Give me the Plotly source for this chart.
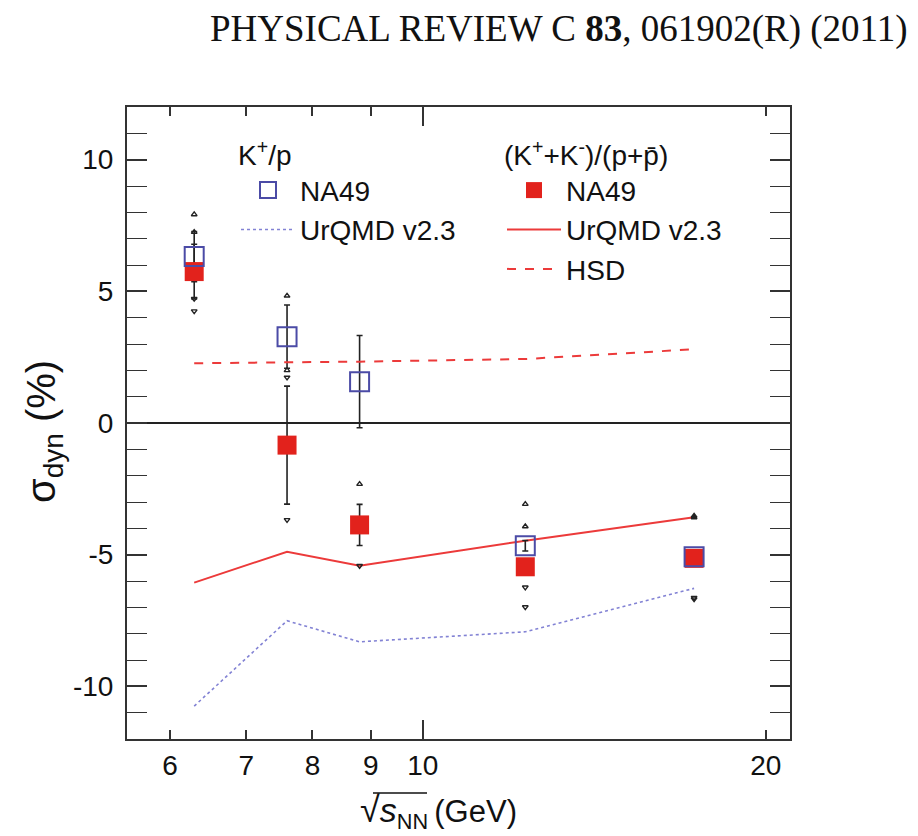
import numpy as np
import plotly.graph_objects as go

# ---- data ----
sqrt_s = [6.3, 7.6, 8.8, 12.3, 17.3]

kp_na49 = [6.32, 3.28, 1.57, -4.66, -5.08]
kp_stat = [0.95, 1.20, 1.75, 0.20, 0.15]
kp_sys = [1.60, 1.55, None, 1.58, 1.55]

kk_na49 = [5.75, -0.84, -3.87, -5.46, -5.14]
kk_stat = [1.04, 2.24, 0.78, 0.20, 0.15]
kk_sys = [1.50, 2.84, 1.55, 1.53, 1.55]

urqmd_kp = [-10.75, -7.51, -8.31, -7.93, -6.28]
urqmd_kk = [-6.06, -4.89, -5.42, -4.47, -3.58]
hsd_kk = [2.27, 2.30, 2.33, 2.43, 2.80]

x_tickvals = [6, 7, 8, 9, 10, 20]
y_tickvals = [-10, -5, 0, 5, 10]
y_ticktext = ["-10", "-5", "0", "5", "10"]

# ---- styles ----
BLUE = "#4b4ba6"
BLUE_LINE = "#8282d4"
RED = "#e2221c"
RED_LINE = "#ec3a3a"
AXC = "#333333"
FONT = "Liberation Sans, Arial, sans-serif"

# page geometry (the page body has an 8 px margin)
OFF = 8
W, H = 910, 828
L, R, T, B = 119, 128, 99, 97
PW, PH = W - L - R, H - T - B


def px(xp):
    return (xp - OFF - L) / PW


def py(yp):
    return (H - B - (yp - OFF)) / PH


def sys_points(vals, errs, sign):
    xs, ys = [], []
    for xv, v, e in zip(sqrt_s, vals, errs):
        if e is not None:
            xs.append(xv)
            ys.append(v + sign * e)
    return xs, ys


fig = go.Figure()

# model curves
fig.add_trace(go.Scatter(x=sqrt_s, y=urqmd_kp, mode="lines",
                         line=dict(color=BLUE_LINE, width=1.6, dash="dot"),
                         name="UrQMD v2.3", legend="legend", legendrank=2))
fig.add_trace(go.Scatter(x=sqrt_s, y=urqmd_kk, mode="lines",
                         line=dict(color=RED_LINE, width=2),
                         name="UrQMD v2.3", legend="legend2", legendrank=2))
fig.add_trace(go.Scatter(x=sqrt_s, y=hsd_kk, mode="lines", xaxis="x2",
                         line=dict(color=RED_LINE, width=2, dash="dash"),
                         name="HSD", legend="legend2", legendrank=3))

# systematic brackets
for vals, errs in ((kk_na49, kk_sys), (kp_na49, kp_sys)):
    xs, ys = sys_points(vals, errs, +1)
    fig.add_trace(go.Scatter(x=xs, y=ys, mode="markers", showlegend=False,
                             marker=dict(symbol="triangle-up-open", size=5,
                                         color="#222", line=dict(width=1.4))))
    xs, ys = sys_points(vals, errs, -1)
    fig.add_trace(go.Scatter(x=xs, y=ys, mode="markers", showlegend=False,
                             marker=dict(symbol="triangle-down-open", size=5,
                                         color="#222", line=dict(width=1.4))))

# statistical error bars (drawn below the markers)
for vals, errs in ((kp_na49, kp_stat), (kk_na49, kk_stat)):
    fig.add_trace(go.Scatter(x=sqrt_s, y=vals, mode="markers", showlegend=False,
                             marker=dict(size=1, opacity=0),
                             error_y=dict(type="data", array=errs, color="#222",
                                          thickness=1.6, width=3)))

# NA49 data
fig.add_trace(go.Scatter(x=sqrt_s, y=kk_na49, mode="markers",
                         marker=dict(symbol="square", size=19, color=RED,
                                     line=dict(width=0)),
                         name="NA49", legend="legend2", legendrank=1))
fig.add_trace(go.Scatter(x=sqrt_s, y=kp_na49, mode="markers",
                         marker=dict(symbol="square-open", size=19, color=BLUE,
                                     line=dict(width=2)),
                         name="NA49", legend="legend", legendrank=1))

xr = [np.log10(5.5), np.log10(21)]

fig.update_layout(
    width=W, height=H,
    margin=dict(l=L, r=R, t=T, b=B, autoexpand=False),
    paper_bgcolor="white", plot_bgcolor="white",
    font=dict(family=FONT, size=28, color="#111"),
    xaxis=dict(type="log", range=xr, tickmode="array", tickvals=x_tickvals,
               ticktext=[str(v) for v in x_tickvals], automargin=False,
               ticks="inside", ticklen=9, tickwidth=1.6, tickcolor=AXC,
               showline=True, linecolor=AXC, linewidth=2, mirror="allticks",
               showgrid=False, zeroline=False, ticklabelstandoff=0,
               tickfont=dict(size=28)),
    xaxis2=dict(type="log", range=xr, overlaying="x", anchor="y",
                automargin=False,
                tickmode="array", tickvals=[10], ticks="inside", ticklen=19,
                tickwidth=1.6, tickcolor=AXC, showticklabels=False,
                showline=False, mirror="allticks", showgrid=False, zeroline=False),
    yaxis=dict(range=[-12, 12], tickmode="array", tickvals=y_tickvals,
               ticktext=y_ticktext, ticks="inside", ticklen=20, tickwidth=1.6,
               tickcolor=AXC, automargin=False,
               minor=dict(dtick=1, ticks="inside", ticklen=9, tickwidth=1.4,
                          tickcolor=AXC, showgrid=False),
               showline=True, linecolor=AXC, linewidth=2, mirror="allticks",
               showgrid=False, zeroline=True, zerolinecolor="#222",
               zerolinewidth=1.6, ticklabelstandoff=6,
               tickfont=dict(size=28)),
    legend=dict(x=px(236), y=py(129), xanchor="left", yanchor="top",
                bgcolor="rgba(0,0,0,0)", borderwidth=0,
                title=dict(text="K<sup>+</sup>/p", font=dict(size=28)),
                font=dict(size=28), tracegroupgap=0, itemwidth=54,
                traceorder="normal"),
    legend2=dict(x=px(502), y=py(129), xanchor="left", yanchor="top",
                 bgcolor="rgba(0,0,0,0)", borderwidth=0,
                 title=dict(text="(K<sup>+</sup>+K<sup>-</sup>)/(p+p\u0304)",
                            font=dict(size=28)),
                 font=dict(size=28), tracegroupgap=0, itemwidth=54,
                 traceorder="normal"),
    showlegend=True,
)

fig.add_annotation(text="PHYSICAL REVIEW C <b>83</b>, 061902(R) (2011)",
                   xref="paper", yref="paper", x=px(910), y=py(29),
                   xanchor="right", yanchor="middle", showarrow=False,
                   font=dict(family="Liberation Serif, Times New Roman, serif",
                             size=37, color="#111"))
fig.add_annotation(text="\u03c3<sub>dyn</sub> (%)", textangle=-90,
                   xref="paper", yref="paper", x=px(44), y=py(432),
                   xanchor="center", yanchor="middle", showarrow=False,
                   font=dict(size=40, color="#111"))
fig.add_annotation(text="<span style='font-size:36px'>\u221a</span>"
                        "<i><span style='font-size:34px'>s</span></i>"
                        "<sub>NN</sub>\u2009(GeV)",
                   xref="paper", yref="paper", x=px(438), y=py(811),
                   xanchor="center", yanchor="middle", showarrow=False,
                   font=dict(size=31, color="#111"))
# overline of the square root sign
fig.add_shape(type="line", xref="paper", yref="paper",
              x0=px(373), x1=px(427), y0=py(793), y1=py(793),
              line=dict(color="#111", width=1.6))

fig.write_html("out.html")
